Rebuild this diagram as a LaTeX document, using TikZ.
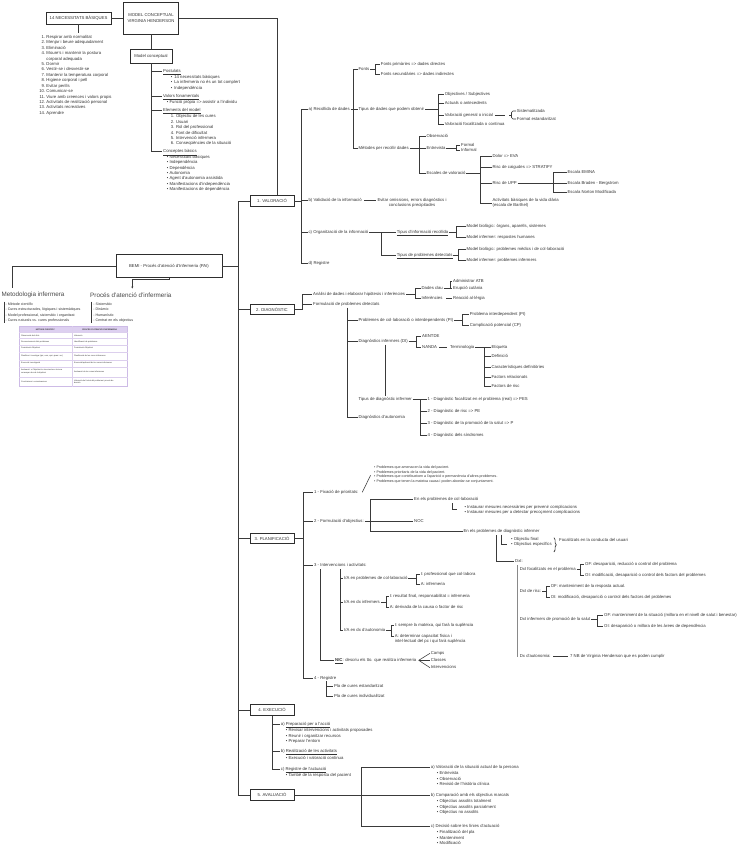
\documentclass[tikz,border=0pt]{standalone}
\usepackage{fontspec}
\setmainfont{Liberation Sans}
\usetikzlibrary{decorations.pathreplacing,arrows.meta}
\definecolor{txt}{HTML}{333333}
\definecolor{lc}{HTML}{3A3A3A}
\definecolor{bc}{HTML}{2E2E2E}
\definecolor{lav}{HTML}{DDD0F0}
\definecolor{lavb}{HTML}{CDBBE6}
\newcommand\myfs{\fontsize{4.25}{5.4}\selectfont}
\newcommand\myfss{\fontsize{3.6}{4.45}\selectfont}
\newcommand\myft{\fontsize{2.0}{2.5}\selectfont}
\newcommand\mybu{\makebox[3.4pt][l]{•}}
\newcommand\mybv{\makebox[2.7pt][l]{•}}
\newcommand\mysa{\rule{0pt}{3.3pt}}
\newcommand\mysb{\rule{0pt}{2.8pt}}
\newcommand\mynm[1]{\makebox[5pt][r]{#1}\hspace{1.3pt}}
\newcommand\fork[3]{%
  \path (#2,0) coordinate (fj);
  \draw[cn] (#1.east) -- (#1.east -| fj);
  \foreach \ch in {#3}{\draw[cn] (#1.east -| fj) |- (\ch.west);}
}
\begin{document}
\begin{tikzpicture}[x=1pt,y=-1pt,
  tx/.style={font=\myfs, text=txt, inner sep=0.7pt, anchor=west, text height=3.1pt, text depth=0.9pt},
  tx2/.style={font=\myfs, text=txt, inner sep=0.7pt, anchor=west, align=left},
  lst/.style={font=\myfs, text=txt, inner sep=0pt, align=left, anchor=north west, yshift=3.3pt},
  lsts/.style={font=\myfss, text=txt, inner sep=0pt, align=left, anchor=north west, yshift=2.8pt},
  ttl/.style={font=\fontsize{6.3}{7.5}\selectfont, text=txt!90, inner sep=0.5pt, anchor=west},
  cn/.style={draw=lc, line width=0.55pt},
  thk/.style={draw=lc, line width=1.3pt},
  box/.style={draw=bc, line width=0.9pt, fill=white, minimum width=44pt, minimum height=10.5pt, font=\myfs, text=txt, inner sep=1pt},
  tcell/.style={font=\myft, text=txt, inner sep=0pt, anchor=west, align=left}
]
\useasboundingbox[fill=white] (0,0) rectangle (740,848);

%% ---------------- top left : model conceptual ----------------
\node[box,minimum width=65pt,minimum height=12pt] (nb) at (78.5,18) {14 NECESSITATS BÀSIQUES};
\node[box,minimum width=55pt,minimum height=32pt,align=center] (mc) at (151,18) {MODEL CONCEPTUAL\\VIRGINIA HENDERSON};
\draw[cn] (nb) -- (mc);
\coordinate (nbe) at (78.5,33);
\draw[cn] (nb.south) -- (nb.south |- nbe);
\node[lst] (nbl) at (40,38.4) {\mysa\mynm{1.}Respirar amb normalitat\\\mynm{2.}Menjar i beure adequadament\\\mynm{3.}Eliminació\\\mynm{4.}Moure's i mantenir la postura\\\mynm{}corporal adequada\\\mynm{5.}Dormir\\\mynm{6.}Vestir-se i desvestir-se\\\mynm{7.}Mantenir la temperatura corporal\\\mynm{8.}Higiene corporal i pell\\\mynm{9.}Evitar perills\\\mynm{10.}Comunicar-se\\\mynm{11.}Viure amb creences i valors propis\\\mynm{12.}Activitats de realització personal\\\mynm{13.}Activitats recreatives\\\mynm{14.}Aprendre};

\node[box,minimum width=42pt,minimum height=14pt] (mcp) at (151,56) {Model conceptual};
\draw[cn] (mc.south) -- (mcp.north);
\node[tx] (post) at (162.3,71.3) {\underline{Postulats}};
\node[tx] (valf) at (162.3,96.7) {\underline{Valors fonamentals}};
\node[tx] (elem) at (162.3,110.7) {\underline{Elements del model}};
\node[tx] (conc) at (162.3,151.7) {\underline{Conceptes bàsics}};
\coordinate (mcb) at (151,151.7);
\draw[cn] (mcp.south) -- (mcb);
\foreach \ch in {post,valf,elem,conc}{\draw[cn] (mcp.south |- \ch.west) -- (\ch.west);}
\node[lst] (postl) at (170.7,78.4) {\mysa\mybu 14 necessitats bàsiques\\\mybu La infermeria no és un tot complert\\\mybu Independència};
\node[lst] (valfl) at (166.7,103.4) {\mysa\mybv Funció pròpia => assistir a l'individu};
\node[lst] (eleml) at (170.7,117.7) {\mysa 1. Objectiu de les cures\\2. Usuari\\3. Rol del professional\\4. Font de dificultat\\5. Intervenció infermera\\6. Conseqüències de la situació};
\node[lst] (concl) at (166.7,158.1) {\mysa\mybv Necessitats bàsiques\\\mybv Independència\\\mybv Dependència\\\mybv Autonomia\\\mybv Agent d'autonomia assistida\\\mybv Manifestacions d'independència\\\mybv Manifestacions de dependència};

%% ---------------- BEMI ----------------
\node[box,minimum width=106pt,minimum height=23pt] (bemi) at (169,266) {BEMI - Procés d'atenció d'Infermeria (PAI)};
\node[ttl] (met) at (1,295) {Metodologia infermera};
\node[ttl] (pai) at (89.5,295) {Procés d'atenció d'infermeria};
\coordinate (bl) at (12,288);
\draw[cn] (bemi.west) -| (bl);
\coordinate (bp1) at (169,279.3);
\coordinate (bp2) at (132.3,288.5);
\draw[cn,-{Stealth[length=2pt,width=2pt]}] (bemi.south) -- (bp1) -| (bp2);
\coordinate (mb1) at (4,301.5); \coordinate (mb2) at (4,322.5);
\draw[cn] (mb1) -- (mb2);
\node[lsts,font=\fontsize{3.6}{5.3}\selectfont] (metl) at (5.5,305.4) {\mysb- Mètode científic\\- Cures estructurades, lògiques i sistemàtiques\\- Model professional, sistemàtic i organitzat\\- Cures naturals vs. cures professionals};
\coordinate (pb1) at (91.7,301.5); \coordinate (pb2) at (91.7,322.5);
\draw[cn] (pb1) -- (pb2);
\node[lsts,font=\fontsize{3.6}{5.3}\selectfont] (pail) at (93.2,305.4) {\mysb- Sistemàtic\\- Dinàmic\\- Humanístic\\- Centrat en els objectius};

% table
\fill[lav] (19,326) rectangle (127.7,332.3);
\draw[lavb,line width=0.5pt] (19,326) rectangle (127.7,386.7);
\foreach \yy in {332.3,338.3,345,351.7,360,366.7,376.7}{\draw[lavb!70,line width=0.35pt] (19,\yy) -- (127.7,\yy);}
\draw[lavb!70,line width=0.35pt] (71.7,326) -- (71.7,386.7);
\node[tcell,anchor=center] (th1) at (45.3,329.2) {\textbf{MÈTODE CIENTÍFIC}};
\node[tcell,anchor=center] (th2) at (99.7,329.2) {\textbf{PROCÉS D'ATENCIÓ D'INFERMERIA}};
\node[tcell] (tl1) at (21,335.3) {Observació dels fets};
\node[tcell] (tl2) at (21,341.7) {Reconeixement dels problemes};
\node[tcell] (tl3) at (21,348.3) {Formulació d'hipòtesi};
\node[tcell] (tl4) at (21,355.8) {Planificar i investigar (qui, com, què, quan i on)};
\node[tcell] (tl5) at (21,363.3) {Execució investigació};
\node[tcell] (tl6) at (21,371.7) {Avaluació: si l'hipòtesi és incorrecta es torna a\\començar des de la hipòtesi};
\node[tcell] (tl7) at (21,381.7) {Conclusions i comunicacions};
\node[tcell] (tr1) at (74,335.3) {Valoració};
\node[tcell] (tr2) at (74,341.7) {Identificació de problemes};
\node[tcell] (tr3) at (74,348.3) {Formulació d'hipòtesi};
\node[tcell] (tr4) at (74,355.8) {Planificació de les cures infermeres};
\node[tcell] (tr5) at (74,363.3) {Execució/aplicació de les cures infermeres};
\node[tcell] (tr6) at (74,371.7) {Avaluació de les cures infermeres};
\node[tcell] (tr7) at (74,381.7) {Valoració de l'estat del problema i procés de\\decisió};

%% ---------------- phases ----------------
\node[box] (v1) at (272,201) {1. VALORACIÓ};
\node[box] (v2) at (272,309.3) {2. DIAGNÒSTIC};
\node[box] (v3) at (272,538.5) {3. PLANIFICACIÓ};
\node[box] (v4) at (272,710) {4. EXECUCIÓ};
\node[box] (v5) at (272,795) {5. AVALUACIÓ};
\coordinate (tk1) at (238,201); \coordinate (tk5) at (238,795);
\draw[cn] (tk1) -- (tk5);
\foreach \ch in {v1,v2,v3,v4,v5}{\draw[cn] (\ch.west -| tk1) -- (\ch.west);}
\draw[cn] (bemi.east) -- (bemi.east -| tk1);
\coordinate (mcr) at (277,0);
\draw[cn] (mc.east) -| (v1.north -| mcr);

%% ---------------- 1. VALORACIO ----------------
\node[tx] (va) at (307.7,109.3) {a) Recollida de dades};
\node[tx] (vb) at (307.7,200.7) {b) Validació de la informació};
\node[tx] (vc) at (307.7,232.3) {c) Organització de la informació};
\node[tx] (vd) at (307.7,263.3) {d) Registre};
\fork{v1}{301}{va,vb,vc,vd}

\node[tx] (fo) at (357.7,69) {Fonts};
\node[tx] (td) at (357.7,109.3) {Tipus de dades que podem obtenir};
\node[tx] (mr) at (357.7,148.3) {Mètodes per recollir dades};
\fork{va}{353.7}{fo,td,mr}
\node[tx] (fpr) at (380,64) {Fonts primàries => dades directes};
\node[tx] (fsc) at (380,74) {Fonts secundàries => dades indirectes};
\fork{fo}{375}{fpr,fsc}
\node[tx] (os) at (444,94) {Objectives / Subjectives};
\node[tx] (aan) at (444,103) {Actuals o antecedents};
\node[tx] (vgi) at (444,115.3) {Valoració general o inicial};
\node[tx] (vfc) at (444,124.3) {Valoració focalitzada o continua};
\fork{td}{438.3}{os,aan,vgi,vfc}
\draw[thk] ([xshift=1pt]vgi.east) -- ++(10,0) coordinate (vgx);
\node[tx] (sis) at (516,111) {Sistematitzada};
\node[tx] (fes) at (516,119) {Format estandaritzat};
\coordinate (brk) at (511.5,115.3);
\draw[cn,rounded corners=1.5pt] (sis.west) -| (brk) |- (fes.west);
\draw[cn] ([xshift=-2.5pt]brk) -- (brk);

\node[tx] (obs) at (425.7,136.7) {Observació};
\node[tx] (ent) at (425.7,148.3) {Entrevista};
\node[tx] (esc) at (425.7,173.3) {Escales de valoració};
\fork{mr}{419.7}{obs,ent,esc}
\node[tx] (for) at (460.3,145.7) {Formal};
\node[tx] (inf) at (460.3,150.7) {Informal};
\fork{ent}{456.7}{for,inf}
\node[tx] (dol) at (491.7,156.3) {Dolor => EVA};
\node[tx] (caig) at (491.7,167.3) {Risc de caigudes => STRATIFY};
\node[tx] (upp) at (491.7,183.3) {Risc de UPP};
\node[tx2] (abvd) at (491.7,202.8) {Activitats bàsiques de la vida diària\\(escala de Barthel)};
\fork{esc}{480}{dol,caig,upp,abvd}
\node[tx] (emi) at (566.7,172.3) {Escala EMINA};
\node[tx] (bra) at (566.7,183.3) {Escala Braden - Bergstrom};
\node[tx] (nor) at (566.7,192.3) {Escala Norton Modificada};
\fork{upp}{553.3}{emi,bra,nor}

\node[tx2,align=center,anchor=center] (evit) at (412,202.7) {Evitar omissions, errors diagnòstics i\\conclusions precipitades};
\draw[thk] ([xshift=1.5pt]vb.east) -- ++(11.5,0);

\node[tx] (tir) at (396,232.3) {\underline{Tipus d'informació recollida}};
\node[tx] (tpd) at (396,255) {\underline{Tipus de problemes detectats}};
\fork{vc}{381.7}{tir,tpd}
\node[tx] (mb1) at (465.7,226.7) {Model biològic: òrgans, aparells, sistemes};
\node[tx] (mi1) at (465.7,237.7) {Model infermer: respostes humanes};
\fork{tir}{456.7}{mb1,mi1}
\node[tx] (mb2) at (465.7,249.3) {Model biològic: problemes mèdics i de col·laboració};
\node[tx] (mi2) at (465.7,260.7) {Model infermer: problemes infermers};
\fork{tpd}{458.3}{mb2,mi2}

%% ---------------- 2. DIAGNOSTIC ----------------
\node[tx] (an) at (312.3,294) {Anàlisi de dades i elaborar hipòtesis i inferències};
\node[tx] (fpd) at (312.3,304.3) {Formulació de problemes detectats};
\fork{v2}{302.7}{an,fpd}
\node[tx] (dcl) at (420.7,288.3) {Dades clau};
\node[tx] (infr) at (420.7,298) {Inferències};
\fork{an}{415}{dcl,infr}
\node[tx] (atb) at (452.3,281) {Administrar ATB};
\node[tx] (eru) at (452.3,288.3) {Erupció cutània};
\fork{dcl}{450}{atb,eru}
\node[tx] (ral) at (452.3,298) {Reacció al·lèrgia};
\draw[cn] ([xshift=3pt]infr.east) -- (ral.west);

\node[tx] (pci) at (357.7,320) {Problemes de col·laboració o interdependents (PI)};
\node[tx] (dinf) at (357.7,341.7) {Diagnòstics infermers (DI)};
\node[tx] (dau) at (357.7,417.7) {Diagnòstics d'autonomia};
\coordinate (fpj) at (347.7,307.5);
\draw[cn] (fpj) |- (dau.west);
\foreach \ch in {pci,dinf}{\draw[cn] (fpj |- \ch.west) -- (\ch.west);}
\node[tx] (pint) at (469,314.3) {Problema interdependent (PI)};
\node[tx] (cpot) at (469,325) {Complicació potencial (CP)};
\fork{pci}{462.7}{pint,cpot}
\node[tx] (aent) at (421.3,336.7) {AENTDE};
\node[tx] (nan) at (421.3,347.7) {NANDA};
\fork{dinf}{416.7}{aent,nan}
\node[tx] (term) at (449.3,347.7) {Terminologia};
\draw[cn] ([xshift=1.5pt]nan.east) -- ([xshift=-2pt]term.west);
\node[tx] (eti) at (490.7,347.7) {Etiqueta};
\node[tx] (def) at (490.7,356.3) {Definició};
\node[tx] (car) at (490.7,367) {Característiques definitòries};
\node[tx] (frel) at (490.7,377.3) {Factors relacionats};
\node[tx] (fris) at (490.7,386.7) {Factors de risc};
\fork{term}{484}{eti,def,car,frel,fris}
\node[tx] (tdi) at (357.7,399) {Tipus de diagnòstic infermer};
\coordinate (dj) at (385,0);
\draw[cn] (dinf.south -| dj) -- (tdi.north -| dj);
\node[tx] (d1) at (426.7,399) {1 - Diagnòstic focalitzat en el problema (real) => PES};
\node[tx] (d2) at (426.7,411.3) {2 - Diagnòstic de risc => PE};
\node[tx] (d3) at (426.7,423.3) {3 - Diagnòstic de la promoció de la salut => P};
\node[tx] (d4) at (426.7,435.3) {4 - Diagnòstic dels síndromes};
\fork{tdi}{420}{d1,d2,d3,d4}

%% ---------------- 3. PLANIFICACIO ----------------
\node[tx] (p1) at (313.3,492.3) {1 - Fixació de prioritats:};
\node[tx] (p2) at (313.3,521.7) {2 - Formulació d'objectius:};
\node[tx] (p3) at (313.3,565) {3 - Intervencions i activitats:};
\node[tx] (p4) at (313.3,678) {4 - Registre};
\fork{v3}{303.3}{p1,p2,p3,p4}
\draw[cn] ([xshift=3pt]p1.east) -- ++(8.3,-17);
\node[lsts] (p1l) at (374,468.6) {\mysb\makebox[2.3pt][l]{•}Problemes que amenacen la vida del pacient.\\\makebox[2.3pt][l]{•}Problemes prioritaris de la vida del pacient.\\\makebox[2.3pt][l]{•}Problemes que contribueixen a l'aparició o permanència d'altres problemes.\\\makebox[2.3pt][l]{•}Problemes que tenen la mateixa causa i poden abordar-se conjuntament.};

\node[tx] (col) at (413.3,499.3) {En els problemes de col·laboració};
\node[tx] (noc) at (413.3,521.7) {NOC};
\node[tx] (edi) at (462.7,531) {En els problemes de diagnòstic infermer};
\fork{p2}{370.7}{col,noc,edi}
\coordinate (c1) at (452.3,503.3); \coordinate (c2) at (457.3,509.3);
\draw[cn] (c1) |- (c2);
\node[lst,font=\fontsize{4.25}{5.6}\selectfont] (coll) at (464.3,508.1) {\mysa\mybv Instaurar mesures necessàries per prevenir complicacions\\\mybv Instaurar mesures per a detectar precoçment complicacions};
\coordinate (e1) at (501,534.5); \coordinate (e2) at (506.7,544.3);
\draw[cn] (e1) |- (e2);
\node[lst,font=\fontsize{4.25}{5}\selectfont] (edil) at (511,540.4) {\mysa\mybv Objectiu final\\\mybv Objectius específics};
\coordinate (br1) at (554,537.7); \coordinate (br2) at (554,552);
\draw[cn,line width=0.7pt,decorate,decoration={brace,amplitude=2.2pt}] (br1) -- (br2);
\node[tx] (foc) at (558.3,540.7) {Focalitzats en la conducta del usuari};

\coordinate (x1) at (496.7,535);
\node[tx] (dxi) at (514.3,561.7) {DxI:};
\draw[cn] (x1) |- (dxi.west);
\coordinate (x2) at (517.7,565); \coordinate (x3) at (517.7,656.7);
\draw[draw=lc!60,line width=0.9pt] (x2) -- (x3);
\node[tx] (dxf) at (519,569.3) {DxI focalitzats en el problema};
\node[tx] (dxr) at (519,591.7) {DxI de risc:};
\node[tx] (dxp) at (519,619.3) {DxI infermers de promoció de la salut};
\node[tx] (dxa) at (519,656.7) {Dx d'autonomia:};
\node[tx] (of1) at (584.3,564) {OF: desaparició, reducció o control del problema};
\node[tx] (oi1) at (584.3,575) {OI: modificació, desaparició  o control dels factors del problemes};
\fork{dxf}{580}{of1,oi1}
\node[tx] (of2) at (550,586.7) {OF: manteniment de la resposta actual.};
\node[tx] (oi2) at (550,597.7) {OI: modificació, desaparició  o control dels factors del problemes};
\fork{dxr}{546}{of2,oi2}
\node[tx] (of3) at (603.3,615) {OF: manteniment de la situació (millora en el nivell de salut i benestar)};
\node[tx] (oi3) at (603.3,626.7) {OI: desaparició o millora de les àrees de dependència};
\fork{dxp}{597.7}{of3,oi3}
\node[tx] (nb7) at (569.3,656.7) {7 NB de Virginia Henderson que es poden cumplir};
\draw[cn] ([xshift=1.5pt]dxa.east) -- ([xshift=-1.5pt]nb7.west);

\coordinate (q1) at (320,569); \coordinate (q2) at (340,569);
\node[tx] (ia1) at (343.3,578) {I/A en problemes de col·laboració};
\node[tx] (ia2) at (343.3,602.3) {I/A en dx infermers};
\node[tx] (ia3) at (343.3,630.7) {I/A en dx d'autonomia};
\draw[cn] (q2) |- (ia3.west);
\foreach \ch in {ia1,ia2}{\draw[cn] (q2 |- \ch.west) -- (\ch.west);}
\node[tx] (nic) at (334.3,660.3) {\textbf{\underline{NIC}}: descriu els tto. que realitza infermeria};
\draw[cn] (q1) |- (nic.west);
\node[tx] (i1) at (420,574) {I: professional que col·labora};
\node[tx] (a1) at (420,584.3) {A: infermeria};
\fork{ia1}{416}{i1,a1}
\node[tx] (i2) at (389,596) {I: resultat final, responsabilitat = infermeria};
\node[tx] (a2) at (389,607.3) {A: derivada de la causa o factor de risc};
\fork{ia2}{386}{i2,a2}
\node[tx] (i3) at (394,625) {I: sempre la mateixa, qui farà la suplència};
\node[tx] (a3) at (394,636.7) {A: determinar capacitat física i};
\node[tx] (a3b) at (394,641.7) {intel·lectual del pc i qui farà suplència};
\fork{ia3}{391}{i3,a3}
\node[tx] (camps) at (430,653.3) {Camps};
\node[tx] (clas) at (430,660.3) {Classes};
\node[tx] (intv) at (430,667.7) {Intervencions};
\foreach \ch in {camps,clas,intv}{\draw[cn] ([xshift=1.5pt]nic.east) -- (\ch.west);}
\coordinate (r1) at (326.7,681);
\node[tx] (pce) at (333.3,686) {Pla de cures estandaritzat};
\node[tx] (pcn) at (333.3,696) {Pla de cures individualitzat};
\draw[cn] (r1) |- (pcn.west);
\draw[cn] (r1 |- pce.west) -- (pce.west);

%% ---------------- 4. EXECUCIO ----------------
\node[tx] (ea) at (280,724) {a) \underline{Preparació per a l'acció}};
\node[tx] (eb) at (280,751.7) {b) \underline{Realització de les activitats}};
\node[tx] (ec) at (280,769) {c) \underline{Registre de l'actuació}};
\draw[cn] (v4.south) |- (ec.west);
\foreach \ch in {ea,eb}{\draw[cn] (v4.south |- \ch.west) -- (\ch.west);}
\node[lst,font=\fontsize{4.25}{5.65}\selectfont] (eal) at (285.7,731.4) {\mysa\mybv Revisar intervencions i activitats proposades\\\mybv Reunir i organitzar recursos\\\mybv Preparar l'entorn};
\node[lst] (ebl) at (285.7,759.1) {\mysa\mybv Execució i valoració continua};
\node[lst] (ecl) at (285.7,776.4) {\mysa\mybv També de la resposta del pacient};

%% ---------------- 5. AVALUACIO ----------------
\node[tx] (aa1) at (430,767.3) {a) Valoració de la situació actual de la persona};
\node[tx] (ab1) at (430,795) {b) Comparació amb els objectius marcats};
\node[tx] (ac1) at (430,826.3) {c) Decisió sobre les línies d'actuació};
\fork{v5}{361.7}{aa1,ab1,ac1}
\node[lst,font=\fontsize{4.25}{5.45}\selectfont] (aal) at (436.7,774.7) {\mysa\mybv Entrevista\\\mybv Observació\\\mybv Revisió de l'història clínica};
\node[lst,font=\fontsize{4.25}{5.45}\selectfont] (abl) at (436.7,802.7) {\mysa\mybv Objectius assolits totalment\\\mybv Objectius assolits parcialment\\\mybv Objectius no assolits};
\node[lst,font=\fontsize{4.25}{5.45}\selectfont] (acl) at (436.7,833.7) {\mysa\mybv Finalització del pla\\\mybv Manteniment\\\mybv Modificació};
\end{tikzpicture}
\end{document}
